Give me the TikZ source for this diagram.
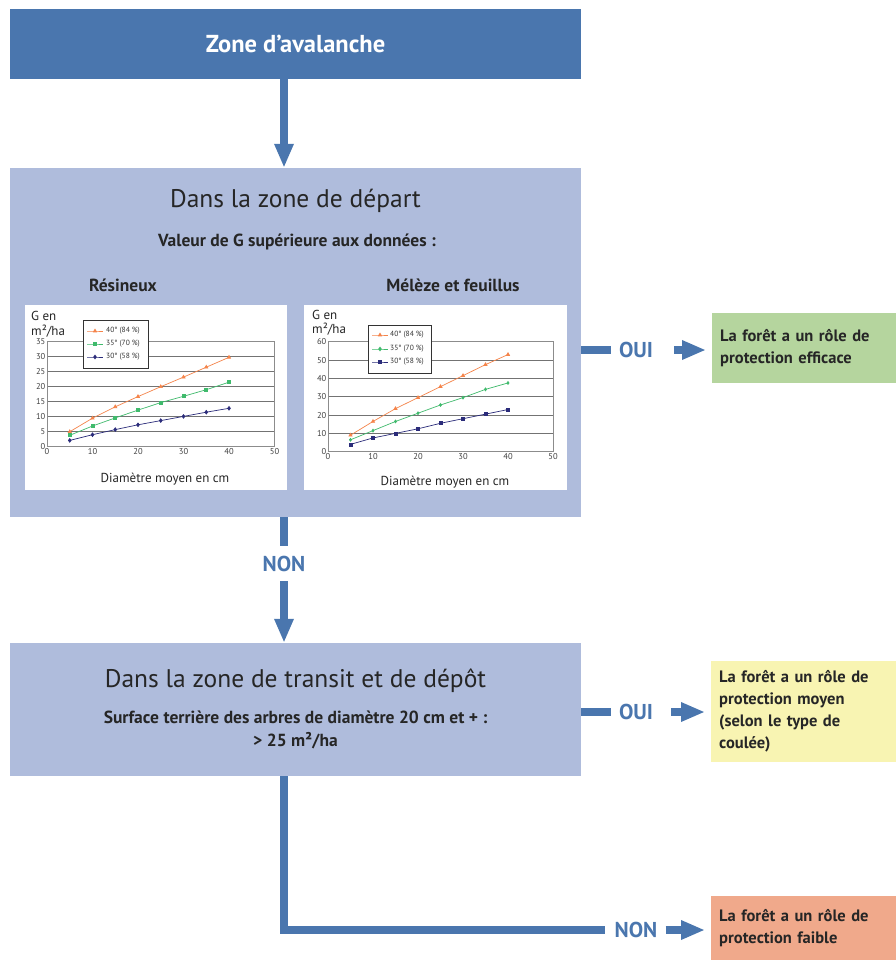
\documentclass[tikz,border=0pt]{standalone}
\usepackage{fontspec}
\setmainfont{PT Sans}
\usetikzlibrary{arrows.meta,calc,plotmarks}
\definecolor{avdark}{HTML}{4A76AE}
\definecolor{avlight}{HTML}{AFBCDC}
\definecolor{okgreen}{HTML}{B5D59E}
\definecolor{midyellow}{HTML}{F8F4B2}
\definecolor{lowred}{HTML}{F0A98B}
\definecolor{crvorange}{HTML}{F5844A}
\definecolor{crvgreen}{HTML}{3FBA6C}
\definecolor{crvnavy}{HTML}{2B2C7A}
\tikzset{
  titlebox/.style={fill=avdark,text=white,font=\bfseries\fontsize{24.5}{28}\selectfont,minimum width=571pt,minimum height=70pt,inner sep=0pt},
  zonebox/.style={fill=avlight,minimum width=571pt,inner sep=0pt},
  headtext/.style={font=\fontsize{25.5}{30}\selectfont,text=black!85,inner sep=0pt},
  subtext/.style={font=\bfseries\fontsize{17.5}{23}\selectfont,text=black!85,inner sep=0pt,align=center},
  result/.style={anchor=north west,minimum width=184pt,text width=170pt,inner xsep=8pt,inner ysep=0pt,align=left,font=\bfseries\fontsize{16.5}{22}\selectfont,text=black!85},
  answer/.style={text=avdark,font=\bfseries\fontsize{21.5}{24}\selectfont,inner sep=0pt},
  link/.style={avdark,line width=8pt},
  flow/.style={avdark,line width=8pt,-{Triangle[length=24pt,width=18pt]}},
  gridline/.style={black!55,line width=0.9pt},
  frameline/.style={black!45,line width=0.6pt},
  ticklab/.style={font=\fontsize{8.5}{9}\selectfont,text=black!75,inner sep=1.5pt},
  curve/.style={line width=0.7pt,mark size=1.8pt},
  legendbox/.style={fill=white,draw=black!80,line width=0.6pt},
  legtext/.style={font=\fontsize{7.5}{8}\selectfont,text=black!80,anchor=west,inner sep=0pt},
  axtext/.style={font=\fontsize{13}{14}\selectfont,text=black!85,inner sep=0pt},
}
\begin{document}
\begin{tikzpicture}[x=1pt,y=-1pt]
  \useasboundingbox (0,0) rectangle (895,960);
  \coordinate (ax) at (284,0);
  % boites
  \node[titlebox] (zone) at (295.5,44) {Zone d'avalanche};
  \node[zonebox,minimum height=349pt] (depart) at (295.5,342.5) {};
  \node[zonebox,minimum height=133pt] (transit) at (295.5,709.5) {};
  \node[headtext] (departtitle) at (295.5,201) {Dans la zone de départ};
  \node[subtext] (departsub) at (297,242) {Valeur de G supérieure aux données :};
  \node[subtext] (resineux) at (123,285) {Résineux};
  \node[subtext] (meleze) at (453,285) {Mélèze et feuillus};
  \node[headtext] (transittitle) at (295.5,681) {Dans la zone de transit et de dépôt};
  \node[subtext] (transitsub) at (295.5,730) {Surface terrière des arbres de diamètre 20 cm et + :\\> 25 m²/ha};
  % resultats
  \node[result,fill=okgreen,minimum height=70pt] (efficace) at (712,313) {La forêt a un rôle de\\protection efficace};
  \node[result,fill=midyellow,minimum height=101pt] (moyen) at (711,661) {La forêt a un rôle de\\protection moyen\\(selon le type de\\coulée)};
  \node[result,fill=lowred,minimum height=64pt] (faible) at (711,896) {La forêt a un rôle de\\protection faible};
  % reponses
  \node[answer] (oui1) at (636,350) {OUI};
  \node[answer] (non1) at (284,564) {NON};
  \node[answer] (oui2) at (636,712) {OUI};
  \node[answer] (non2) at (636,930) {NON};
  % fleches
  \draw[flow] (zone.south -| ax) -- (depart.north -| ax);
  \draw[link,shorten >=8pt] (depart.east |- oui1) -- (oui1.west);
  \draw[flow,shorten <=21pt,shorten >=6pt] (oui1.east) -- (efficace.west |- oui1);
  \draw[link,shorten >=10pt] (depart.south -| ax) -- (non1.north);
  \draw[flow,shorten <=9pt] (non1.south) -- (transit.north -| ax);
  \draw[link,shorten >=8pt] (transit.east |- oui2) -- (oui2.west);
  \draw[flow,shorten <=18pt,shorten >=6pt] (oui2.east) -- (moyen.west |- oui2);
  \draw[link,shorten >=9pt] (transit.south -| ax) |- (non2.west);
  \draw[flow,shorten <=8pt,shorten >=6pt] (non2.east) -- (faible.west |- non2);
  % graphique resineux
  \fill[white] (25,305) rectangle (287,490);
  \begin{scope}[shift={(47,446.7)},x=4.55pt,y=3pt]
    \foreach \g in {5,10,...,35} \draw[gridline] (0,\g) -- (50,\g);
    \draw[frameline] (0,0) rectangle (50,35);
    \foreach \t in {0,5,...,35} \node[ticklab,anchor=east] (ry\t) at (0,\t) {\t};
    \foreach \t in {0,10,...,50} \node[ticklab,anchor=north] (rx\t) at (\t,0) {\t};
    \draw[crvnavy,curve,mark=diamond*] plot coordinates {(5,2.1) (10,4) (15,5.7) (20,7.3) (25,8.7) (30,10.1) (35,11.5) (40,12.8)};
    \draw[crvgreen,curve,mark=square*,mark size=1.5pt] plot coordinates {(5,3.8) (10,6.9) (15,9.6) (20,12.2) (25,14.7) (30,16.8) (35,19) (40,21.5)};
    \draw[crvorange,curve,mark=triangle*] plot coordinates {(5,5) (10,9.5) (15,13.3) (20,16.7) (25,20) (30,23.2) (35,26.5) (40,29.8)};
  \end{scope}
  \node[axtext,anchor=west] (rgen) at (31,316) {G en};
  \node[axtext,anchor=west] (runit) at (31,331) {m²/ha};
  \node[axtext] (rdiam) at (165,479) {Diamètre moyen en cm};
  \draw[legendbox] (83,320) rectangle (148,368);
  \foreach \ly/\col/\mk/\lab [count=\i] in {331/crvorange/triangle*/{40° (84 \%)},344/crvgreen/square*/{35° (70 \%)},357/crvnavy/diamond*/{30° (58 \%)}} {
    \draw[\col,curve,mark=\mk,mark indices={2}] plot coordinates {(87,\ly) (95,\ly) (103,\ly)};
    \node[legtext] (rleg\i) at (106,\ly) {\lab};
  }
  % graphique meleze et feuillus
  \fill[white] (304,305) rectangle (567,490);
  \begin{scope}[shift={(328,451.7)},x=4.5pt,y=1.833pt]
    \foreach \g in {10,20,...,60} \draw[gridline] (0,\g) -- (50,\g);
    \draw[frameline] (0,0) rectangle (50,60);
    \foreach \t in {0,10,...,60} \node[ticklab,anchor=east] (my\t) at (0,\t) {\t};
    \foreach \t in {0,10,...,50} \node[ticklab,anchor=north] (mx\t) at (\t,0) {\t};
    \draw[crvnavy,curve,mark=square*,mark size=1.5pt] plot coordinates {(5,4) (10,7.5) (15,10) (20,12.5) (25,15.5) (30,18) (35,20.5) (40,23)};
    \draw[crvgreen,curve,mark=diamond*,mark size=1.4pt] plot coordinates {(5,6.5) (10,11.5) (15,16.5) (20,21) (25,25.5) (30,29.5) (35,34) (40,37.5)};
    \draw[crvorange,curve,mark=triangle*] plot coordinates {(5,9) (10,16.5) (15,23.5) (20,29.5) (25,35.5) (30,41.5) (35,47.5) (40,53)};
  \end{scope}
  \node[axtext,anchor=west] (mgen) at (312,315) {G en};
  \node[axtext,anchor=west] (munit) at (312,329) {m²/ha};
  \node[axtext] (mdiam) at (445,482) {Diamètre moyen en cm};
  \draw[legendbox] (368,325) rectangle (431,373);
  \foreach \ly/\col/\mk/\lab [count=\i] in {335/crvorange/triangle*/{40° (84 \%)},349/crvgreen/diamond*/{35° (70 \%)},362/crvnavy/square*/{30° (58 \%)}} {
    \draw[\col,curve,mark=\mk,mark indices={2}] plot coordinates {(372,\ly) (380,\ly) (388,\ly)};
    \node[legtext] (mleg\i) at (390,\ly) {\lab};
  }
\end{tikzpicture}
\end{document}
